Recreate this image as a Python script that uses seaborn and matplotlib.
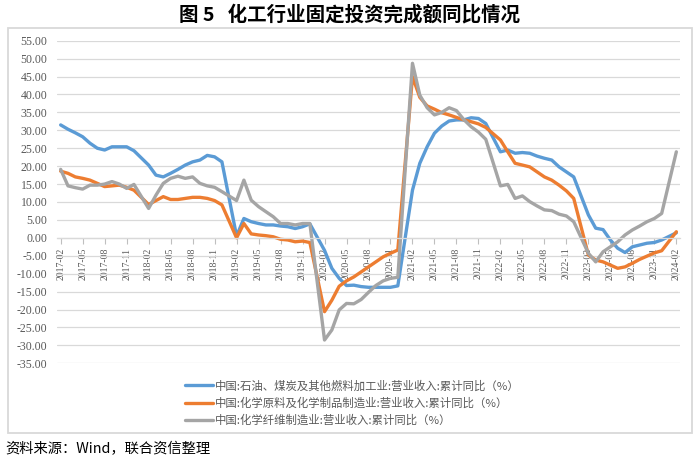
import matplotlib
matplotlib.use("Agg")
import matplotlib.pyplot as plt
from matplotlib.patches import Rectangle
import seaborn as sns
import pandas as pd

# ---- data ----
months = [f"{y}-{m:02d}" for y in range(2017, 2024) for m in range(2, 13)] + ["2024-02"]

petro = [31.5, 30.3, 29.3, 28.2, 26.4, 25.0, 24.5, 25.4, 25.4, 25.4, 24.3,
         20.3, 17.5, 17.0, 18.0, 19.1, 20.3, 21.2, 21.7, 23.0, 22.6, 21.2,
         0.5, 5.4, 4.5, 4.0, 3.6, 3.6, 3.3, 3.1, 2.6, 3.1, 3.9,
         -3.5, -8.5, -11.3, -13.3, -13.2, -13.6, -13.8, -13.8, -13.8, -13.8, -13.4,
         13.3, 20.8, 25.4, 29.2, 31.2, 32.6, 32.9, 32.9, 33.5, 33.3, 31.9,
         24.0, 24.5, 23.6, 23.8, 23.6, 22.8, 22.2, 21.7, 19.8, 18.4, 17.0,
         6.4, 2.7, 2.3, -0.6, -2.9, -4.1, -2.5, -2.0, -1.5, -1.3, -0.6,
         1.4]

chem = [18.6, 18.0, 17.0, 16.6, 16.1, 15.2, 14.3, 14.5, 14.7, 14.1, 13.3,
        9.3, 10.4, 11.5, 10.7, 10.7, 11.0, 11.3, 11.3, 11.0, 10.4, 9.2,
        0.0, 4.0, 1.1, 0.8, 0.6, 0.3, -0.4, -0.6, -1.1, -0.9, -1.3,
        -20.6, -17.4, -13.5, -12.0, -10.9, -9.5, -8.1, -6.7, -5.3, -4.3, -3.4,
        45.0, 39.2, 36.8, 35.9, 34.9, 34.3, 33.6, 32.9, 32.4, 31.8, 30.8,
        27.3, 24.0, 20.8, 20.3, 19.8, 18.4, 17.0, 16.1, 14.7, 13.1, 11.0,
        -4.8, -6.2, -6.7, -7.6, -8.5, -8.1, -7.1, -6.0, -5.1, -4.2, -3.6,
        1.7]

fiber = [19.1, 14.5, 14.0, 13.6, 14.7, 14.7, 15.0, 15.7, 15.0, 13.8, 14.9,
         8.2, 11.9, 15.2, 16.6, 17.2, 16.6, 17.0, 15.2, 14.5, 14.1, 12.9,
         10.4, 16.1, 10.5, 8.7, 7.3, 5.9, 4.0, 4.0, 3.6, 4.0, 4.0,
         -28.5, -25.7, -20.1, -18.3, -18.4, -17.2, -15.2, -13.3, -12.0, -11.3, -11.0,
         48.7, 39.8, 36.3, 34.3, 35.0, 36.3, 35.5, 33.0, 31.0, 29.5, 27.5,
         14.5, 14.9, 11.0, 11.7, 10.1, 8.9, 7.8, 7.6, 6.6, 6.1, 4.5,
         -4.3, -6.7, -3.9, -2.5, -1.1, 0.8, 2.2, 3.3, 4.5, 5.4, 6.8,
         24.0]

series_names = ["中国:石油、煤炭及其他燃料加工业:营业收入:累计同比（%）",
                "中国:化学原料及化学制品制造业:营业收入:累计同比（%）",
                "中国:化学纤维制造业:营业收入:累计同比（%）"]
colors = ["#5B9BD5", "#ED7D31", "#A5A5A5"]

xtick_labels = ["2017-02", "2017-05", "2017-08", "2017-11", "2018-02", "2018-05", "2018-08", "2018-11",
                "2019-02", "2019-05", "2019-08", "2019-11", "2020-02", "2020-05", "2020-08", "2020-11",
                "2021-02", "2021-05", "2021-08", "2021-11", "2022-02", "2022-05", "2022-08", "2022-11",
                "2023-02", "2023-05", "2023-08", "2023-11", "2024-02"]
yticks = [-35, -30, -25, -20, -15, -10, -5, 0, 5, 10, 15, 20, 25, 30, 35, 40, 45, 50, 55]

title = "图 5   化工行业固定投资完成额同比情况"
source = "资料来源：Wind，联合资信整理"


def month_pos(s):
    y, m = s.split("-")
    return (int(y) - 2017) * 12 + (int(m) - 2)


rows = []
for name, vals in zip(series_names, [petro, chem, fiber]):
    for mo, v in zip(months, vals):
        rows.append({"pos": month_pos(mo), "value": v, "series": name})
df = pd.DataFrame(rows)

sns.set_theme(style="white")
cjk = ["Noto Sans CJK SC", "DejaVu Sans"]
plt.rcParams["font.family"] = cjk

fig = plt.figure(figsize=(7.0, 4.61), dpi=100)
W, H = 700, 461
ax = fig.add_axes([57 / W, 1 - 363.3 / H, (680 - 57) / W, (363.3 - 40.7) / H])

sns.lineplot(data=df, x="pos", y="value", hue="series", hue_order=series_names,
             palette=colors, linewidth=2.4, ax=ax, legend=True, sort=True)

# spines first (set_position resets tick styling)
for s in ["left", "right", "top"]:
    ax.spines[s].set_visible(False)
ax.spines["bottom"].set_position(("data", 0))
ax.spines["bottom"].set_color("#d9d9d9")
ax.spines["bottom"].set_linewidth(0.9)

ax.set_xlim(-0.5, 84.5)
ax.set_ylim(-35, 55)
ax.set_yticks(yticks)
ax.set_yticklabels([f"{v:.2f}" for v in yticks])
for t in ax.get_yticklabels():
    t.set_fontfamily("Liberation Serif")
    t.set_fontsize(8.5)
    t.set_color("#595959")
ax.tick_params(axis="y", length=0, pad=7, left=False)

xt = [month_pos(s) for s in xtick_labels]
ax.set_xticks(xt)
ax.set_xticklabels(xtick_labels)
ax.tick_params(axis="x", length=4, width=0.8, color="#bfbfbf", pad=3, direction="out",
               bottom=True, labelrotation=90)
for t in ax.get_xticklabels():
    t.set_fontfamily("Liberation Serif")
    t.set_fontsize(7)
    t.set_color("#595959")

ax.set_xlabel("")
ax.set_ylabel("")
ax.yaxis.grid(True, color="#d9d9d9", linewidth=0.9)
ax.xaxis.grid(False)
ax.set_axisbelow(True)

handles, labels = ax.get_legend_handles_labels()
ax.get_legend().remove()
leg = fig.legend(handles, labels, loc="upper left", bbox_to_anchor=(185 / W, 1 - 380 / H),
                 frameon=False, fontsize=8.2, handlelength=2.5, handletextpad=0.15,
                 labelspacing=0.5, borderaxespad=0, borderpad=0)
for t in leg.get_texts():
    t.set_color("#595959")

fig.patches.append(Rectangle((8 / W, 1 - 433 / H), 684 / W, 405 / H, transform=fig.transFigure,
                             fill=False, edgecolor="#d9d9d9", linewidth=1.3))

fig.text(0.5, 1 - 15 / H, title, ha="center", va="center", fontsize=14, weight="bold", color="black")
fig.text(5 / W, 1 - 449 / H, source, ha="left", va="center", fontsize=10.3, color="black")

fig.savefig("out.png", dpi=100)
